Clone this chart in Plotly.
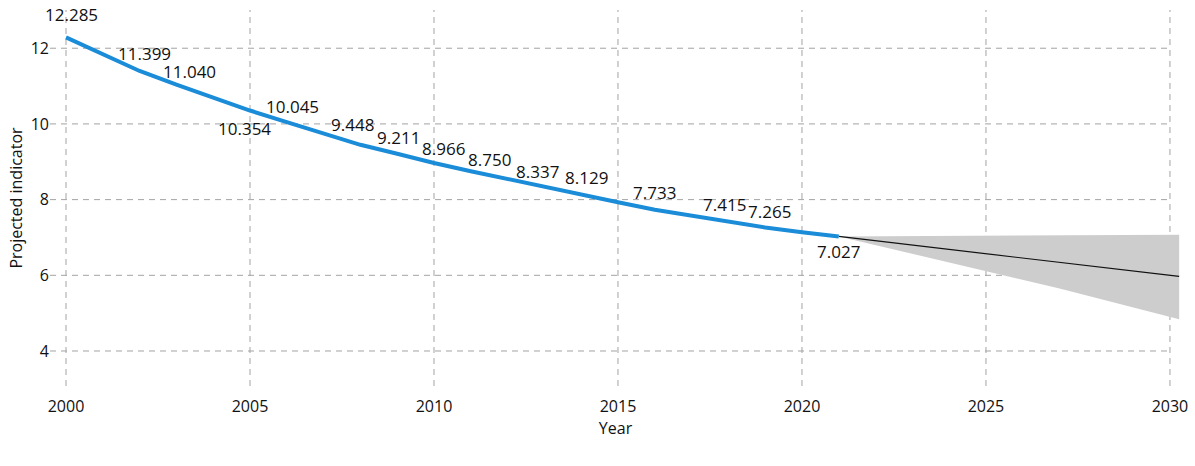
import plotly.graph_objects as go

# ---- data ----
years = [2000, 2001, 2002, 2003, 2004, 2005, 2006, 2007, 2008, 2009, 2010,
         2011, 2012, 2013, 2014, 2015, 2016, 2017, 2018, 2019, 2020, 2021]
values = [12.285, 11.84, 11.399, 11.040, 10.70, 10.354, 10.045, 9.74, 9.448, 9.211, 8.966,
          8.750, 8.54, 8.337, 8.129, 7.93, 7.733, 7.57, 7.415, 7.265, 7.14, 7.027]

forecast_years = [2021, 2024, 2027, 2030.25]
forecast_mean = [7.027, 6.69, 6.35, 5.97]
forecast_upper = [7.027, 7.04, 7.05, 7.07]
forecast_lower = [7.027, 6.33, 5.65, 4.84]

label_years = [2000, 2002, 2003, 2005, 2006, 2008, 2009, 2010, 2011, 2013, 2014, 2016, 2018, 2019, 2021]
label_texts = ["12.285", "11.399", "11.040", "10.354", "10.045", "9.448", "9.211", "8.966",
               "8.750", "8.337", "8.129", "7.733", "7.415", "7.265", "7.027"]

x_ticks = [2000, 2005, 2010, 2015, 2020, 2025, 2030]
y_ticks = [4, 6, 8, 10, 12]

# ---- styling (label offsets in pixels) ----
label_dx = [5, 5, 13, -6, 6, -8, 1, 10, 19, -7, 5, 0, -4, 4, 0]
label_dy = [-23, -17, -13, 18, -16, -20, -16, -15, -12, -15, -17, -17, -17, -16, 15]

X_MIN, X_MAX = 1999.565, 2030.3
Y_MIN, Y_MAX = 3.075, 13.01
FONT = "Open Sans"
GRID = "#a3a3a3"

fig = go.Figure()

# band
fig.add_trace(go.Scatter(x=forecast_years, y=forecast_upper, mode="lines",
                         line=dict(width=0, color="rgba(0,0,0,0)"), hoverinfo="skip",
                         showlegend=False))
fig.add_trace(go.Scatter(x=forecast_years, y=forecast_lower, mode="lines",
                         line=dict(width=0, color="rgba(0,0,0,0)"), fill="tonexty",
                         fillcolor="#cdcdcd", hoverinfo="skip", showlegend=False))
fig.add_trace(go.Scatter(x=forecast_years, y=forecast_mean, mode="lines",
                         line=dict(width=1.2, color="#111111"), showlegend=False))
fig.add_trace(go.Scatter(x=years, y=values, mode="lines",
                         line=dict(width=4, color="#1a8cd8"), showlegend=False))

val_map = dict(zip(years, values))
for yr, txt, dx, dy in zip(label_years, label_texts, label_dx, label_dy):
    fig.add_annotation(x=yr, y=val_map[yr], text=txt, showarrow=False,
                       xshift=dx, yshift=-dy, xanchor="center", yanchor="middle",
                       font=dict(family=FONT, size=17, color="#111111"))

shapes = []
for yv in y_ticks:
    shapes.append(dict(type="line", xref="x", yref="y", x0=X_MIN, x1=2030, y0=yv, y1=yv,
                       line=dict(color=GRID, width=1, dash="6px,5px"), layer="below"))
for xv in x_ticks:
    shapes.append(dict(type="line", xref="x", yref="y domain", x0=xv, x1=xv, y0=0, y1=1,
                       line=dict(color=GRID, width=1, dash="6px,5px"), layer="below"))

fig.update_layout(
    width=1195, height=466,
    margin=dict(l=50, r=14, t=10, b=80),
    paper_bgcolor="white", plot_bgcolor="white",
    font=dict(family=FONT, size=16, color="#111111"),
    shapes=shapes,
    showlegend=False,
    xaxis=dict(range=[X_MIN, X_MAX], tickvals=x_ticks, showgrid=False, zeroline=False,
               showline=False, ticks="outside", ticklen=6, tickcolor="rgba(0,0,0,0)",
               title=dict(text="Year", font=dict(size=16), standoff=6),
               tickfont=dict(size=16), automargin=False),
    yaxis=dict(range=[Y_MIN, Y_MAX], tickvals=y_ticks, showgrid=False, zeroline=False,
               showline=False, ticks="", title=dict(text="Projected indicator", font=dict(size=16), standoff=4),
               tickfont=dict(size=16), automargin=False),
)

fig.write_html("out.html")
